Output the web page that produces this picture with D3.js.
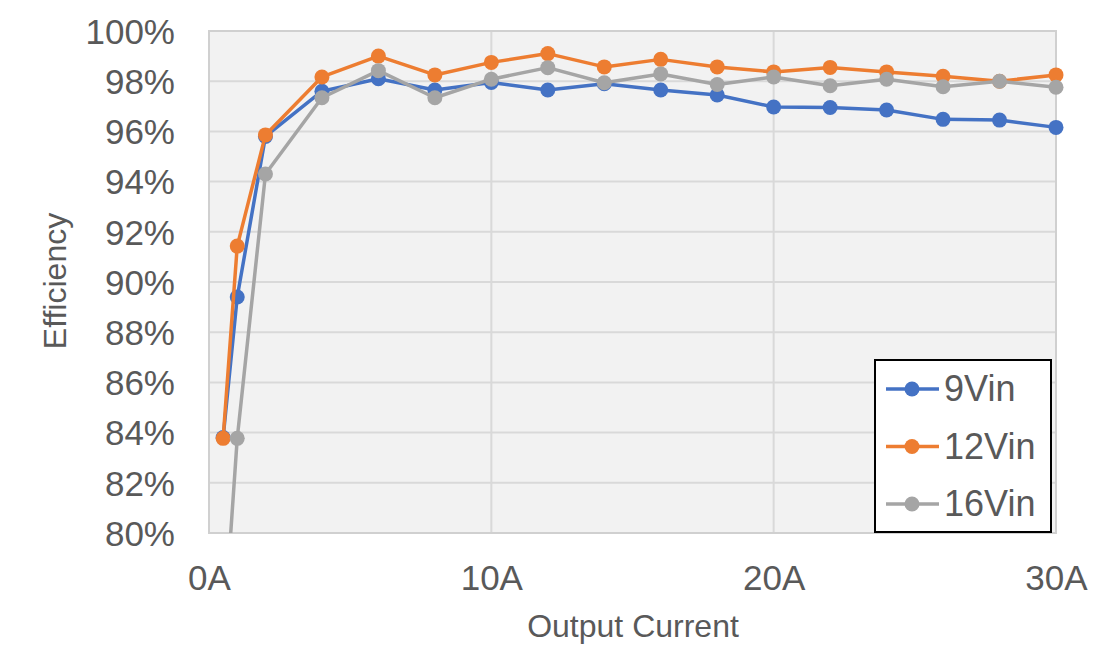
<!DOCTYPE html>
<html><head><meta charset="utf-8">
<script src="https://cdn.jsdelivr.net/npm/d3@7"></script>
<style>body{margin:0;background:#fff}svg{display:block}text{font-family:"Liberation Sans",Arial,sans-serif;fill:#595959}</style>
</head><body>
<svg id="c" width="1097" height="658"></svg>
<script>
const current = [0.5, 1, 2, 4, 6, 8, 10, 12, 14, 16, 18, 20, 22, 24, 26, 28, 30];
const vin9  = [83.8, 89.4, 95.8, 97.6, 98.1, 97.65, 97.95, 97.65, 97.9, 97.65, 97.45, 96.97, 96.95, 96.85, 96.48, 96.45, 96.16];
const vin12 = [83.77, 91.43, 95.86, 98.17, 99.0, 98.25, 98.75, 99.1, 98.57, 98.87, 98.57, 98.37, 98.55, 98.37, 98.2, 98.0, 98.25];
const vin16 = [75.6, 83.77, 94.3, 97.34, 98.42, 97.34, 98.08, 98.54, 97.94, 98.29, 97.87, 98.17, 97.82, 98.08, 97.78, 98.0, 97.76];
const seriesNames = ["9Vin", "12Vin", "16Vin"];
const seriesColors = ["#4472C4", "#ED7D31", "#A5A5A5"];
const xTicks = [0, 10, 20, 30];
const yTicks = [80, 82, 84, 86, 88, 90, 92, 94, 96, 98, 100];

const svg = d3.select("#c");
const L = 209, R = 1056, T = 31, B = 533;
const x = d3.scaleLinear().domain([0, 30]).range([L, R]);
const y = d3.scaleLinear().domain([80, 100]).range([B, T]);

svg.append("defs").append("clipPath").attr("id", "clip")
  .append("rect").attr("x", L).attr("y", T - 10).attr("width", R - L + 10).attr("height", B - T + 10);

svg.append("rect").attr("x", L).attr("y", T).attr("width", R - L).attr("height", B - T).attr("fill", "#f2f2f2");

// gridlines
svg.append("g").selectAll("line").data(yTicks).join("line")
  .attr("x1", L).attr("x2", R).attr("y1", d => y(d)).attr("y2", d => y(d))
  .attr("stroke", "#d9d9d9").attr("stroke-width", 2);
svg.append("g").selectAll("line").data(xTicks).join("line")
  .attr("x1", d => x(d)).attr("x2", d => x(d)).attr("y1", T).attr("y2", B)
  .attr("stroke", "#d9d9d9").attr("stroke-width", 2);
svg.append("rect").attr("x", L).attr("y", T).attr("width", R - L).attr("height", B - T)
  .attr("fill", "none").attr("stroke", "#d0d0d0").attr("stroke-width", 2);

// axes via d3
const yAxis = d3.axisLeft(y).tickValues(yTicks).tickFormat(d => d + "%").tickSize(0).tickPadding(34);
const gy = svg.append("g").attr("transform", `translate(${L},0)`).call(yAxis);
gy.select(".domain").remove();
gy.selectAll("text").attr("font-size", 35).attr("fill", "#595959").attr("dy", "0.35em");

const xAxis = d3.axisBottom(x).tickValues(xTicks).tickFormat(d => d + "A").tickSize(0).tickPadding(32);
const gx = svg.append("g").attr("transform", `translate(0,${B})`).call(xAxis);
gx.select(".domain").remove();
gx.selectAll("text").attr("font-size", 35).attr("fill", "#595959");

svg.append("text").attr("x", 633).attr("y", 637).attr("text-anchor", "middle").attr("font-size", 32).text("Output Current");
svg.append("text").attr("transform", "translate(66,281) rotate(-90)").attr("text-anchor", "middle").attr("font-size", 32).text("Efficiency");

// series
const allSeries = [vin9, vin12, vin16];
const line = d3.line().x((d, i) => x(current[i])).y(d => y(d));
const plot = svg.append("g").attr("clip-path", "url(#clip)");
allSeries.forEach((vals, si) => {
  const g = plot.append("g");
  g.append("path").datum(vals).attr("d", line).attr("fill", "none")
    .attr("stroke", seriesColors[si]).attr("stroke-width", 3.5).attr("stroke-linejoin", "round");
  g.selectAll("circle").data(vals.map((v, i) => [current[i], v]).filter(d => d[1] >= 80)).join("circle")
    .attr("cx", d => x(d[0])).attr("cy", d => y(d[1])).attr("r", 7.5).attr("fill", seriesColors[si]);
});

// legend
const lg = svg.append("g");
lg.append("rect").attr("x", 875).attr("y", 360).attr("width", 176).attr("height", 172)
  .attr("fill", "#fff").attr("stroke", "#000").attr("stroke-width", 2);
seriesNames.forEach((n, i) => {
  const cy = 389 + i * 57.5;
  lg.append("line").attr("x1", 886).attr("x2", 939).attr("y1", cy).attr("y2", cy)
    .attr("stroke", seriesColors[i]).attr("stroke-width", 3.5);
  lg.append("circle").attr("cx", 912).attr("cy", cy).attr("r", 7.5).attr("fill", seriesColors[i]);
  lg.append("text").attr("x", 944).attr("y", cy + 12).attr("font-size", 36).text(n);
});
</script>
</body></html>
